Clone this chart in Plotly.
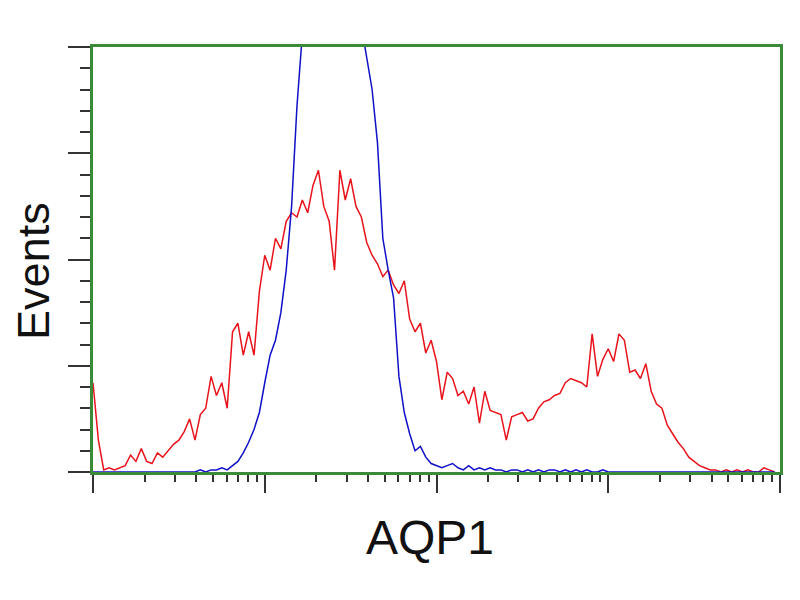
import math
import plotly.graph_objects as go

# Histogram bins: channel index (8-channel bins over 1024 log-scaled channels, 4 decades)
bin_width = 8
n_bins = 128
channels = [i * bin_width for i in range(n_bins)]

# AQP1-stained sample (red)
red_counts = [
    42, 15, 1, 2, 1, 2, 3, 8, 5, 11,
    5, 4, 9, 7, 10, 13, 15, 19, 25, 15,
    27, 30, 45, 36, 42, 30, 66, 70, 55, 66,
    55, 85, 102, 95, 110, 105, 118, 122, 120, 128,
    122, 135, 142, 125, 118, 95, 142, 128, 138, 125,
    120, 108, 102, 98, 92, 95, 88, 84, 90, 72,
    66, 70, 56, 62, 52, 34, 47, 44, 36, 38,
    32, 40, 23, 38, 29, 28, 27, 15, 26, 27,
    28, 24, 25, 30, 33, 34, 36, 37, 42, 44,
    43, 42, 40, 65, 45, 53, 58, 52, 65, 62,
    47, 48, 44, 51, 38, 32, 30, 22, 18, 14,
    11, 7, 5, 3, 2, 1, 1, 0, 1, 0,
    1, 0, 1, 0, 0, 2, 1, 0,
]

# Negative control (blue)
blue_counts = [
    0, 0, 0, 0, 0, 0, 0, 0, 0, 0,
    0, 0, 0, 0, 0, 0, 0, 0, 0, 0,
    1, 0, 1, 1, 2, 1, 3, 5, 9, 14,
    20, 28, 42, 55, 62, 75, 95, 125, 172, 210,
    240, 255, 265, 270, 268, 262, 255, 245, 235, 225,
    210, 195, 180, 155, 110, 95, 82, 45, 28, 18,
    10, 12, 7, 4, 3, 2, 3, 4, 2, 1,
    3, 1, 2, 1, 2, 1, 1, 0, 1, 1,
    0, 1, 0, 1, 0, 1, 1, 0, 1, 0,
    1, 0, 1, 0, 0, 1, 0, 0, 0, 0,
    0, 0, 0, 0, 0, 0, 0, 0, 0, 0,
    0, 0, 0, 0, 0, 0, 0, 0, 0, 0,
    0, 0, 0, 0, 0, 0, 0, 0,
]

y_max = 200
y_major = [0, 50, 100, 150, 200]
y_minor = [v for v in range(0, 201, 10) if v % 50 != 0]
decade = 256
x_major = [0, 256, 512, 768, 1024]
x_minor = [d * decade + decade * math.log10(m) for d in range(4) for m in range(2, 10)]

green = "#3a8a3a"
tick_col = "#333333"

fig = go.Figure()
fig.add_trace(go.Scatter(x=channels, y=red_counts, mode="lines",
                         line=dict(color="#e8131b", width=1.5),
                         showlegend=False))
fig.add_trace(go.Scatter(x=channels, y=blue_counts, mode="lines",
                         line=dict(color="#1010c8", width=1.5),
                         showlegend=False))

fig.update_layout(
    width=800, height=600,
    margin=dict(l=85, r=28, t=39, b=136),
    paper_bgcolor="white", plot_bgcolor="white",
    font=dict(family="Liberation Sans, Arial, sans-serif", color="#111111"),
    xaxis=dict(range=[0, 1024], showgrid=False, zeroline=False,
               showline=True, linecolor=green, linewidth=3, mirror=True,
               tickmode="array", tickvals=x_major, ticktext=[""] * 5,
               ticks="outside", ticklen=18, tickwidth=2, tickcolor=tick_col,
               minor=dict(tickmode="array", tickvals=x_minor, ticks="outside",
                          ticklen=7, tickwidth=2, tickcolor=tick_col, showgrid=False)),
    yaxis=dict(range=[0, y_max], showgrid=False, zeroline=False,
               showline=True, linecolor=green, linewidth=3, mirror=True,
               tickmode="array", tickvals=y_major, ticktext=[""] * 5,
               ticks="outside", ticklen=22, tickwidth=2, tickcolor=tick_col,
               minor=dict(tickmode="array", tickvals=y_minor, ticks="outside",
                          ticklen=10, tickwidth=2, tickcolor=tick_col, showgrid=False)),
    annotations=[
        dict(text="AQP1", x=0.49, y=-0.155, xref="paper", yref="paper",
             showarrow=False, font=dict(size=48), xanchor="center", yanchor="middle"),
        dict(text="Events", x=-0.086, y=0.473, xref="paper", yref="paper",
             showarrow=False, font=dict(size=45), textangle=-90,
             xanchor="center", yanchor="middle"),
    ],
)

fig.write_html("out.html")
